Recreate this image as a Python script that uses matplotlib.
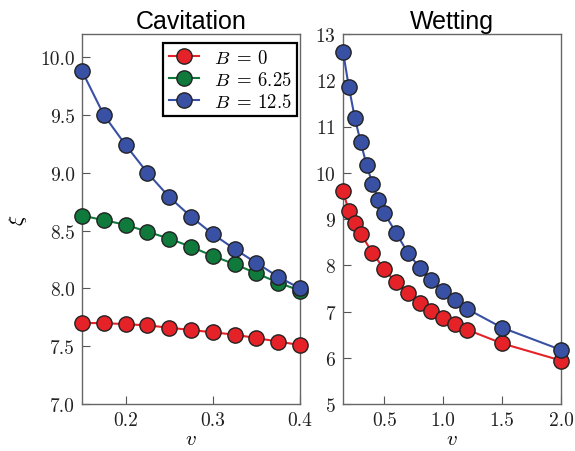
import matplotlib
matplotlib.use('Agg')
import matplotlib.pyplot as plt

plt.rcParams['mathtext.fontset'] = 'cm'
plt.rcParams['font.family'] = 'cmr10'
plt.rcParams['axes.formatter.use_mathtext'] = True

# Cavitation data
v_cav = [0.15, 0.175, 0.2, 0.225, 0.25, 0.275, 0.3, 0.325, 0.35, 0.375, 0.4]
cav_b0 = [7.70, 7.70, 7.69, 7.68, 7.66, 7.64, 7.62, 7.60, 7.57, 7.54, 7.51]
cav_b625 = [8.63, 8.59, 8.55, 8.49, 8.43, 8.36, 8.28, 8.21, 8.13, 8.05, 7.98]
cav_b125 = [9.88, 9.50, 9.24, 9.00, 8.79, 8.62, 8.47, 8.34, 8.22, 8.10, 8.00]

# Wetting data
v_wet_b0 = [0.15, 0.2, 0.25, 0.3, 0.4, 0.5, 0.6, 0.7, 0.8, 0.9, 1.0, 1.1, 1.2, 1.5, 2.0]
wet_b0 = [9.60, 9.17, 8.92, 8.68, 8.27, 7.91, 7.63, 7.39, 7.19, 7.01, 6.87, 6.73, 6.61, 6.31, 5.94]
v_wet_b125 = [0.15, 0.2, 0.25, 0.3, 0.35, 0.4, 0.45, 0.5, 0.6, 0.7, 0.8, 0.9, 1.0, 1.1, 1.2, 1.5, 2.0]
wet_b125 = [12.62, 11.85, 11.19, 10.66, 10.17, 9.76, 9.42, 9.13, 8.70, 8.27, 7.95, 7.68,
            7.45, 7.24, 7.06, 6.65, 6.17]

red = '#e52228'
green = '#0f7a3c'
blue = '#3951a4'
style = dict(marker='o', markersize=11, markeredgecolor='#222222', markeredgewidth=1.0,
             linewidth=1.5, clip_on=False)

fig = plt.figure(figsize=(5.75, 4.52), dpi=100)
ax1 = fig.add_axes([82 / 575, 47 / 452, 218 / 575, 370 / 452])
ax2 = fig.add_axes([343 / 575, 47 / 452, 218 / 575, 370 / 452])

ax1.plot(v_cav, cav_b0, color=red, markerfacecolor=red, label=r'$B\;=\:0$', zorder=3, **style)
ax1.plot(v_cav, cav_b625, color=green, markerfacecolor=green, label=r'$B\;=\:6.25$', zorder=3, **style)
ax1.plot(v_cav, cav_b125, color=blue, markerfacecolor=blue, label=r'$B\;=\:12.5$', zorder=4, **style)
ax1.set_xlim(0.15, 0.4)
ax1.set_ylim(7.0, 10.2)
ax1.set_xticks([0.2, 0.3, 0.4])
ax1.set_yticks([7.0, 7.5, 8.0, 8.5, 9.0, 9.5, 10.0])
ax1.set_yticklabels(['7.0', '7.5', '8.0', '8.5', '9.0', '9.5', '10.0'])
ax1.set_xticklabels(['0.2', '0.3', '0.4'])
ax1.set_xlabel(r'$v$', fontsize=15, labelpad=1)
ax1.set_ylabel(r'$\xi$', fontsize=15, labelpad=8)
ax1.set_title('Cavitation', family='Liberation Sans', fontsize=18, pad=4)
leg = ax1.legend(loc='upper right', fontsize=13.5, fancybox=False, framealpha=1,
                 edgecolor='black', borderpad=0.3, labelspacing=0.2, handlelength=1.6,
                 handletextpad=0.8, bbox_to_anchor=(1.03, 1.0))
leg.get_frame().set_linewidth(1.6)

ax2.plot(v_wet_b0, wet_b0, color=red, markerfacecolor=red, zorder=3, **style)
ax2.plot(v_wet_b125, wet_b125, color=blue, markerfacecolor=blue, zorder=4, **style)
ax2.set_xlim(0.15, 2.0)
ax2.set_ylim(5, 13)
ax2.set_xticks([0.5, 1.0, 1.5, 2.0])
ax2.set_xticklabels(['0.5', '1.0', '1.5', '2.0'])
ax2.set_yticks(range(5, 14))
ax2.set_xlabel(r'$v$', fontsize=15, labelpad=1)
ax2.set_title('Wetting', family='Liberation Sans', fontsize=18, pad=4)

for ax in (ax1, ax2):
    ax.tick_params(direction='in', labelsize=14, length=6, width=0.8, color='#555555',
                   top=False, right=False, colors='#222222', pad=5)
    for sp in ax.spines.values():
        sp.set_color('#666666')
        sp.set_linewidth(1.0)

fig.savefig('out.png', dpi=100)
